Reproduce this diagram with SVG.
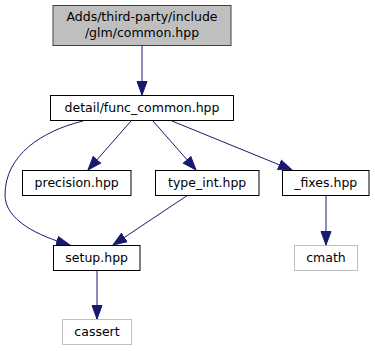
<svg xmlns="http://www.w3.org/2000/svg" width="375" height="351" viewBox="0 0 375 351">
  <style>
    .node rect { fill: #ffffff; stroke: #000000; stroke-width: 1; }
    .node.root rect { fill: #bfbfbf; stroke: #404040; }
    .node.ext rect { stroke: #bfbfbf; }
    .node text { font-family: "DejaVu Sans", "Liberation Sans", sans-serif; font-size: 12.5px; fill: #000000; text-anchor: middle; }
    .edge { fill: none; stroke: #191970; stroke-width: 1; }
  </style>
  <defs>
    <marker id="arrow" markerUnits="userSpaceOnUse" markerWidth="15" markerHeight="12" viewBox="0 0 15 12" refX="14" refY="6" orient="auto">
      <path d="M0.5,1 L14,6 L0.5,11 Z" fill="#191970" stroke="#191970" stroke-width="1"/>
    </marker>
  </defs>
  <rect width="375" height="351" fill="#ffffff"/>

  <g id="edges">
    <path class="edge" d="M142,45 L142,95" marker-end="url(#arrow)"/>
    <path class="edge" d="M131,121 L88,170" marker-end="url(#arrow)"/>
    <path class="edge" d="M153,121 L196,170" marker-end="url(#arrow)"/>
    <path class="edge" d="M172,121 L292,170" marker-end="url(#arrow)"/>
    <path class="edge" d="M83,121 C42,131 5,155 5,195 C5,220 38,236 70,245" marker-end="url(#arrow)"/>
    <path class="edge" d="M188,195 L113,245" marker-end="url(#arrow)"/>
    <path class="edge" d="M326,195 L326,245" marker-end="url(#arrow)"/>
    <path class="edge" d="M97,270 L97,319" marker-end="url(#arrow)"/>
  </g>

  <g id="node-common" class="node root">
    <rect x="53" y="5.5" width="178" height="40"/>
    <text x="142" y="21">Adds/third-party/include</text>
    <text x="142" y="37">/glm/common.hpp</text>
  </g>
  <g id="node-func-common" class="node">
    <rect x="50.5" y="95.5" width="183" height="25"/>
    <text x="142" y="112">detail/func_common.hpp</text>
  </g>
  <g id="node-precision" class="node">
    <rect x="22.5" y="170.5" width="108.5" height="25"/>
    <text x="76.7" y="187">precision.hpp</text>
  </g>
  <g id="node-type-int" class="node">
    <rect x="155.5" y="170.5" width="103.5" height="25"/>
    <text x="207.2" y="187">type_int.hpp</text>
  </g>
  <g id="node-fixes" class="node">
    <rect x="282.5" y="170.5" width="86.5" height="25"/>
    <text x="325.7" y="187">_fixes.hpp</text>
  </g>
  <g id="node-setup" class="node">
    <rect x="53.5" y="245.5" width="86.5" height="25"/>
    <text x="96.7" y="262">setup.hpp</text>
  </g>
  <g id="node-cmath" class="node ext">
    <rect x="294.5" y="245.5" width="63" height="25"/>
    <text x="326" y="262">cmath</text>
  </g>
  <g id="node-cassert" class="node ext">
    <rect x="62.5" y="319.5" width="69" height="25"/>
    <text x="97" y="336">cassert</text>
  </g>
</svg>
